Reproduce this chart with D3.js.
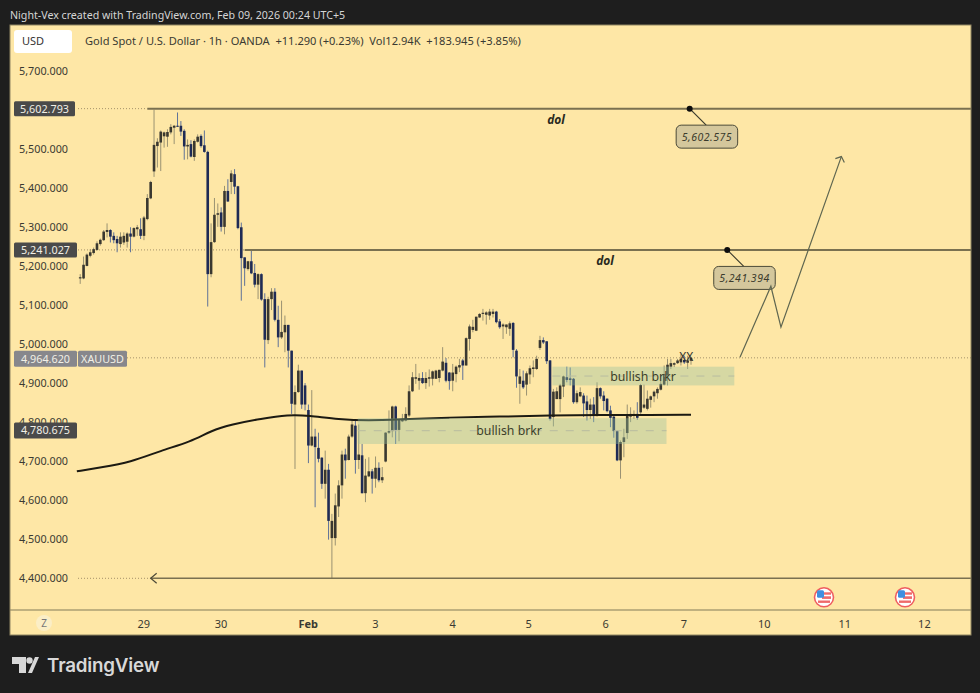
<!DOCTYPE html>
<html>
<head>
<meta charset="utf-8">
<script src="https://cdn.jsdelivr.net/npm/d3@7/dist/d3.min.js"></script>
<style>
html,body{margin:0;padding:0;background:#1e1e1e;overflow:hidden}
svg{display:block}
text{font-family:"Noto Sans",sans-serif}
</style>
</head>
<body>
<svg id="c" width="980" height="693"></svg>
<script>
const opens=[5168,5168,5200,5226,5233,5241,5256,5266,5287,5292,
5277,5269,5256,5260,5262,5283,5275,5294,5294,5277,
5320,5373,5442,5507,5516,5532,5531,5542,5554,5559,
5559,5546,5506,5512,5479,5518,5533,5509,5492,5179,
5261,5331,5337,5300,5392,5415,5435,5404,5299,5222,
5192,5212,5182,5152,5179,5115,5010,5115,5134,5062,
5017,5030,5049,4983,4845,4877,4932,4894,4831,4740,
4763,4734,4709,4642,4678,4503,4503,4584,4638,4717,
4703,4763,4791,4703,4715,4618,4661,4674,4655,4683,
4651,4699,4773,4777,4840,4780,4802,4804,4817,4879,
4911,4906,4913,4900,4911,4911,4911,4913,4932,4952,
4927,4906,4923,4940,4958,4945,5013,5036,5034,5068,
5077,5075,5073,5077,5083,5058,5045,5043,5039,5054,
4983,4898,4906,4896,4922,4936,4936,4990,5010,5007,
4958,4813,4859,4859,4891,4915,4912,4911,4851,4866,
4868,4853,4831,4845,4817,4887,4868,4860,4830,4814,
4777,4702,4749,4772,4814,4817,4821,4825,4837,4834,
4857,4866,4874,4883,4896,4919,4942,4947,4951,4953,
4959,4952,4957];
const closes=[5171,5203,5229,5235,5243,5258,5267,5288,5292,5275,
5266,5258,5275,5277,5283,5275,5297,5299,5277,5324,
5374,5415,5510,5518,5544,5542,5543,5556,5559,5557,
5544,5506,5510,5480,5520,5531,5507,5492,5179,5261,
5331,5335,5300,5392,5365,5437,5403,5297,5220,5194,
5212,5181,5152,5179,5114,5011,5115,5134,5062,5017,
5031,5049,4983,4847,4877,4932,4845,4845,4740,4763,
4736,4706,4642,4678,4547,4547,4587,4638,4717,4702,
4763,4794,4703,4717,4618,4663,4674,4655,4683,4651,
4659,4773,4777,4840,4780,4806,4808,4821,4879,4915,
4915,4913,4900,4913,4915,4930,4932,4934,4955,4906,
4905,4927,4942,4946,4945,5015,5045,5044,5070,5077,
5080,5081,5083,5083,5056,5043,5050,5050,5053,4985,
4917,4917,4889,4925,4938,4940,4962,5010,5004,4956,
4808,4878,4879,4894,4917,4908,4908,4851,4874,4877,
4848,4831,4845,4817,4887,4866,4854,4828,4811,4777,
4702,4749,4761,4817,4821,4821,4811,4895,4845,4860,
4866,4878,4885,4898,4923,4947,4951,4951,4958,4962,
4953,4958,4964.62];
const highs=[5179,5224,5232,5243,5247,5263,5270,5292,5309,5294,
5286,5277,5286,5286,5286,5299,5299,5305,5322,5328,
5384,5418,5600,5527,5547,5544,5550,5563,5561,5593,
5571,5550,5524,5522,5524,5537,5537,5547,5495,5309,
5374,5360,5350,5405,5422,5445,5448,5405,5311,5222,
5213,5239,5205,5181,5181,5130,5121,5143,5143,5098,
5111,5073,5049,4983,4894,4947,4932,4900,4845,4882,
4783,4773,4710,4727,4693,4565,4617,4651,4727,4732,
4768,4808,4806,4794,4744,4706,4710,4680,4712,4697,
4685,4774,4830,4842,4842,4808,4821,4838,4894,4928,
4949,4925,4928,4928,4935,4932,4934,4934,4992,4964,
4928,4949,4945,4962,4962,5017,5050,5062,5070,5079,
5090,5084,5090,5090,5085,5064,5053,5050,5058,5056,
4987,4936,4932,4930,4945,4958,4970,5021,5017,5007,
4959,4885,4889,4898,4919,4942,4940,4913,4881,4889,
4874,4868,4860,4864,4902,4889,4879,4861,4842,4817,
4779,4753,4783,4845,4838,4830,4851,4898,4896,4881,
4868,4881,4889,4923,4945,4962,4962,4953,4962,4975,
4970,4970,4967];
const lows=[5154,5166,5199,5222,5229,5239,5252,5264,5273,5260,
5258,5235,5247,5254,5247,5235,5273,5277,5269,5266,
5317,5371,5428,5452,5443,5503,5505,5537,5512,5556,
5533,5472,5473,5478,5469,5516,5503,5490,5096,5171,
5259,5300,5288,5281,5364,5384,5384,5294,5111,5149,
5188,5179,5145,5115,5111,4940,5000,5087,5058,4992,
5013,4979,4940,4821,4680,4875,4834,4830,4695,4738,
4582,4697,4629,4604,4499,4399,4484,4557,4604,4655,
4702,4760,4668,4680,4617,4595,4659,4617,4632,4646,
4644,4697,4770,4761,4744,4751,4800,4802,4813,4877,
4898,4883,4898,4885,4891,4894,4911,4902,4930,4902,
4883,4879,4902,4928,4908,4945,4983,5030,5033,5067,
5060,5050,5062,5068,5053,5039,5013,5026,5021,4966,
4888,4847,4885,4868,4898,4915,4934,4985,5000,4949,
4804,4789,4859,4825,4864,4902,4894,4847,4847,4864,
4813,4804,4808,4800,4814,4860,4830,4825,4787,4760,
4700,4655,4710,4757,4800,4808,4806,4821,4834,4830,
4837,4851,4860,4881,4894,4894,4936,4941,4949,4945,
4949,4936,4947];

const maIndex=[-1,6,15,24,33,39,45,54,62,68,77,86,95,110,125,140,155,170,182];
const maValue=[4674,4684,4697,4727,4750,4778,4794,4809,4819,4817,4807,4804,4807,4812,4814,4817,4819,4818,4819];

const priceTicks=[5700,5500,5400,5300,5200,5100,5000,4900,4800,4700,4600,4500,4400];
const timeIndex=[18.8,41.8,67.8,87.8,110.8,133.5,156.4,179.7,203.7,227.7,251.4];
const timeLabels=["29","30","Feb","3","4","5","6","7","10","11","12"];

const zoneLabels=["bullish brkr","bullish brkr"];
const zoneStart=[82.7,140.7];
const zoneEnd=[174.7,194.9];
const zoneTop=[4810,4942];
const zoneBottom=[4744,4894];
const zoneMid=[4778,4918];
const zoneTextIndex=[127.8,167.7];

const levelValues=[5602.793,5241.027,4400];
const levelStart=[20,49,21];
const levelTags=["5,602.793","5,241.027"];
const levelNotes=["5,602.575","5,241.394"];
const noteIndex=[181.6,192.8];
const domIndex=[141.8,156.4];
const lastPrice=4964.620;
const emaBadge=4780.675;
const planIndex=[196.6,205.8,208.8,226.8];
const planPrice=[4966,5148,5043,5480];

const W=980,H=693,L=10,R=971,T=25,B=635,AX=610;
const bg="#fee7a6";
const x=d3.scaleLinear().domain([0,182]).range([80.2,691]);
const y=d3.scaleLinear().domain([4400,5700]).range([578.3,70.7]);
const svg=d3.select("#c");
svg.append("rect").attr("width",W).attr("height",H).attr("fill","#1e1e1e");
svg.append("rect").attr("x",L).attr("y",T).attr("width",R-L).attr("height",B-T).attr("fill",bg);

svg.append("text").attr("x",10).attr("y",19).attr("fill","#d5d5d5").attr("font-size",10.65)
 .text("Night-Vex created with TradingView.com, Feb 09, 2026 00:24 UTC+5");

/* last price & level lead-ins */
svg.append("line").attr("x1",127).attr("x2",R).attr("y1",y(lastPrice)).attr("y2",y(lastPrice))
 .attr("stroke","#a5926a").attr("stroke-width",1).attr("stroke-dasharray","1 2");
levelValues.forEach((v,i)=>{
  svg.append("line").attr("x1",78).attr("x2",x(levelStart[i])).attr("y1",y(v)).attr("y2",y(v))
   .attr("stroke","#a5926a").attr("stroke-dasharray","1 2");
});

/* candles */
const n=opens.length, idx=d3.range(n);
const upBody="#3a3830",dnBody="#1f2b55",upWick="#9a9272",dnWick="#5f7298";
const g=svg.append("g");
g.selectAll("line.w").data(idx).join("line").attr("class","w")
 .attr("x1",i=>x(i)).attr("x2",i=>x(i)).attr("y1",i=>y(highs[i])).attr("y2",i=>y(lows[i]))
 .attr("stroke",i=>closes[i]>=opens[i]?upWick:dnWick).attr("stroke-width",1);
g.selectAll("rect.b").data(idx).join("rect").attr("class","b")
 .attr("x",i=>x(i)-1.3).attr("width",2.6)
 .attr("y",i=>y(Math.max(opens[i],closes[i])))
 .attr("height",i=>Math.max(1,Math.abs(y(opens[i])-y(closes[i]))))
 .attr("fill",i=>closes[i]>=opens[i]?upBody:dnBody);

/* moving average */
svg.append("path").attr("fill","none").attr("stroke","#1c1a12").attr("stroke-width",2)
 .attr("d",d3.line().x(i=>x(maIndex[i])).y(i=>y(maValue[i])).curve(d3.curveBasis)(d3.range(maIndex.length)));

/* zones */
zoneLabels.forEach((t,i)=>{
  const x0=x(zoneStart[i]),x1=x(zoneEnd[i]);
  svg.append("rect").attr("x",x0).attr("width",x1-x0).attr("y",y(zoneTop[i]))
   .attr("height",y(zoneBottom[i])-y(zoneTop[i])).attr("fill","#96c09e").attr("fill-opacity",.38);
  svg.append("line").attr("x1",x0).attr("x2",x1).attr("y1",y(zoneMid[i])).attr("y2",y(zoneMid[i]))
   .attr("stroke","#b8bca0").attr("stroke-width",1).attr("stroke-dasharray","8 8");
  svg.append("text").attr("x",x(zoneTextIndex[i])).attr("y",y(zoneMid[i])+4.5).attr("text-anchor","middle")
   .attr("font-size",12.3).attr("fill","#3c3f2a").text(t);
});

/* level lines */
levelValues.forEach((v,i)=>{
  svg.append("line").attr("x1",x(levelStart[i])).attr("x2",R).attr("y1",y(v)).attr("y2",y(v))
   .attr("stroke","#7a7150").attr("stroke-width",i==2?1.4:2);
});
const ax=x(levelStart[2]), ay=y(levelValues[2]);
svg.append("path").attr("fill","none").attr("stroke","#4d4a38").attr("stroke-width",1.2)
 .attr("d",d3.line()([[ax+6,ay-5],[ax,ay],[ax+6,ay+5]]));

/* dol labels */
domIndex.forEach((d,i)=>{
  svg.append("text").attr("x",x(d)).attr("y",y(levelValues[i])+15).attr("text-anchor","middle")
   .attr("font-size",12).attr("font-weight",700).attr("font-style","italic").attr("fill","#2a2a20").text("dol");
});

/* notes */
levelNotes.forEach((t,i)=>{
  const px=x(noteIndex[i]), py=y(levelValues[i]);
  svg.append("line").attr("x1",px).attr("y1",py).attr("x2",px+16.5).attr("y2",py+16.5).attr("stroke","#3a3a2c").attr("stroke-width",1.1);
  svg.append("circle").attr("cx",px).attr("cy",py).attr("r",3).attr("fill","#0d0d0d");
  svg.append("rect").attr("x",px-13.5).attr("y",py+16.5).attr("width",61.5).attr("height",23).attr("rx",5)
   .attr("fill","#d4c79c").attr("stroke","#4b4a38").attr("stroke-width",1);
  svg.append("text").attr("x",px+17.3).attr("y",py+32.5).attr("text-anchor","middle").attr("font-size",10.5)
   .attr("font-style","italic").attr("letter-spacing",".5").attr("fill","#3a3a2c").text(t);
});

/* plan path */
const planPts=planIndex.map((d,i)=>[x(d),y(planPrice[i])]);
svg.append("path").attr("fill","none").attr("stroke","#5f6650").attr("stroke-width",1.2).attr("d",d3.line()(planPts));
const tip=planPts[planPts.length-1];
svg.append("path").attr("fill","none").attr("stroke","#5f6650").attr("stroke-width",1.2)
 .attr("d",d3.line()([[tip[0]-6,tip[1]+2],tip,[tip[0]+3,tip[1]+6]]));

svg.append("text").attr("x",x(180.6)).attr("y",y(lastPrice)+3).attr("text-anchor","middle").attr("font-size",12).attr("fill","#33322a").text("XX");

/* axes */
const yAxis=d3.axisLeft(y).tickValues(priceTicks).tickSize(0).tickFormat(d3.format(",.3f"));
const yg=svg.append("g").attr("transform","translate(19,0)").call(yAxis);
yg.select(".domain").remove();
yg.selectAll("text").attr("x",0).attr("text-anchor","start").attr("font-size",10.8).attr("fill","#3a3a32").attr("font-family",'"Noto Sans",sans-serif');

svg.append("line").attr("x1",L).attr("x2",R).attr("y1",AX).attr("y2",AX).attr("stroke","#ab9f72").attr("stroke-width",1.6);
svg.append("rect").attr("x",L).attr("y",T).attr("width",R-L).attr("height",B-T).attr("fill","none").attr("stroke","#8f8562").attr("stroke-width",1);
const xAxis=d3.axisBottom(x).tickValues(timeIndex).tickSize(0).tickFormat((d,i)=>timeLabels[i]);
const xg=svg.append("g").attr("transform",`translate(0,${AX+7.5})`).call(xAxis);
xg.select(".domain").remove();
xg.selectAll("text").attr("font-size",11).attr("fill","#3a3a32").attr("font-family",'"Noto Sans",sans-serif')
  .attr("font-weight",(d,i)=>timeLabels[i]=="Feb"?700:400);

/* price badges */
function badge(bx,by,w,h,fill,t,col){
  svg.append("rect").attr("x",bx).attr("y",by-h/2).attr("width",w).attr("height",h).attr("rx",1.5).attr("fill",fill);
  svg.append("text").attr("x",bx+w/2).attr("y",by+4).attr("text-anchor","middle").attr("font-size",10.8)
   .attr("fill",col||"#f1efe6").text(t);
}
badge(14,y(levelValues[0]),61,15,"#4a4a4a",levelTags[0]);
badge(14,y(levelValues[1]),63,15,"#4a4a4a",levelTags[1]);
badge(14,y(lastPrice)+.8,63,16,"#87878c",d3.format(",.3f")(lastPrice));
badge(78,y(lastPrice)+.8,49,16,"#87878c","XAUUSD");
badge(14,y(emaBadge)+.8,63,16,"#4a4a4a",d3.format(",.3f")(emaBadge));

/* header */
svg.append("rect").attr("x",14).attr("y",30).attr("width",58).attr("height",23).attr("rx",3).attr("fill","#fff");
svg.append("text").attr("x",22).attr("y",45).attr("font-size",11).attr("fill","#333").text("USD");
svg.append("text").attr("x",85).attr("y",44.5).attr("font-size",11.1).attr("fill","#3a3a32")
 .text("Gold Spot / U.S. Dollar · 1h · OANDA  +11.290 (+0.23%)  Vol12.94K  +183.945 (+3.85%)").style("white-space","pre");

/* Z button */
svg.append("circle").attr("cx",44).attr("cy",623).attr("r",8).attr("fill","#fbeec6");
svg.append("text").attr("x",44).attr("y",626.5).attr("text-anchor","middle").attr("font-size",10).attr("fill","#777").text("Z");

/* event flags */
[824,905].forEach(fx=>{
  const f=svg.append("g").attr("transform",`translate(${fx},597.3)`);
  f.append("circle").attr("r",9.5).attr("fill","#fff").attr("stroke","#ef5e60").attr("stroke-width",1.6);
  f.append("rect").attr("x",-2).attr("y",-5).attr("width",9).attr("height",2.4).attr("fill","#ef6a6a");
  f.append("rect").attr("x",-2).attr("y",-1).attr("width",9).attr("height",2.6).attr("fill","#ef6a6a");
  f.append("rect").attr("x",-6).attr("y",3.2).attr("width",12).attr("height",2.4).attr("fill","#ef6a6a");
  f.append("rect").attr("x",-7).attr("y",-7).attr("width",7).attr("height",7.5).attr("rx",1.5).attr("fill","#3f8fe0");
});

/* logo */
const logo=svg.append("g").attr("fill","#d8d8d8");
logo.append("path").attr("d","M12 657H26V673H19V664H12Z");
logo.append("circle").attr("cx",29.5).attr("cy",660.5).attr("r",3.2);
logo.append("path").attr("d","M28 673L35 657H39L32 673Z");
svg.append("text").attr("x",47).attr("y",672).attr("font-size",18.8).attr("font-weight",600).attr("fill","#d8d8d8")
 .style("font-family","Inter,Roboto,sans-serif").attr("letter-spacing","-.2").text("TradingView");
</script>
</body>
</html>
